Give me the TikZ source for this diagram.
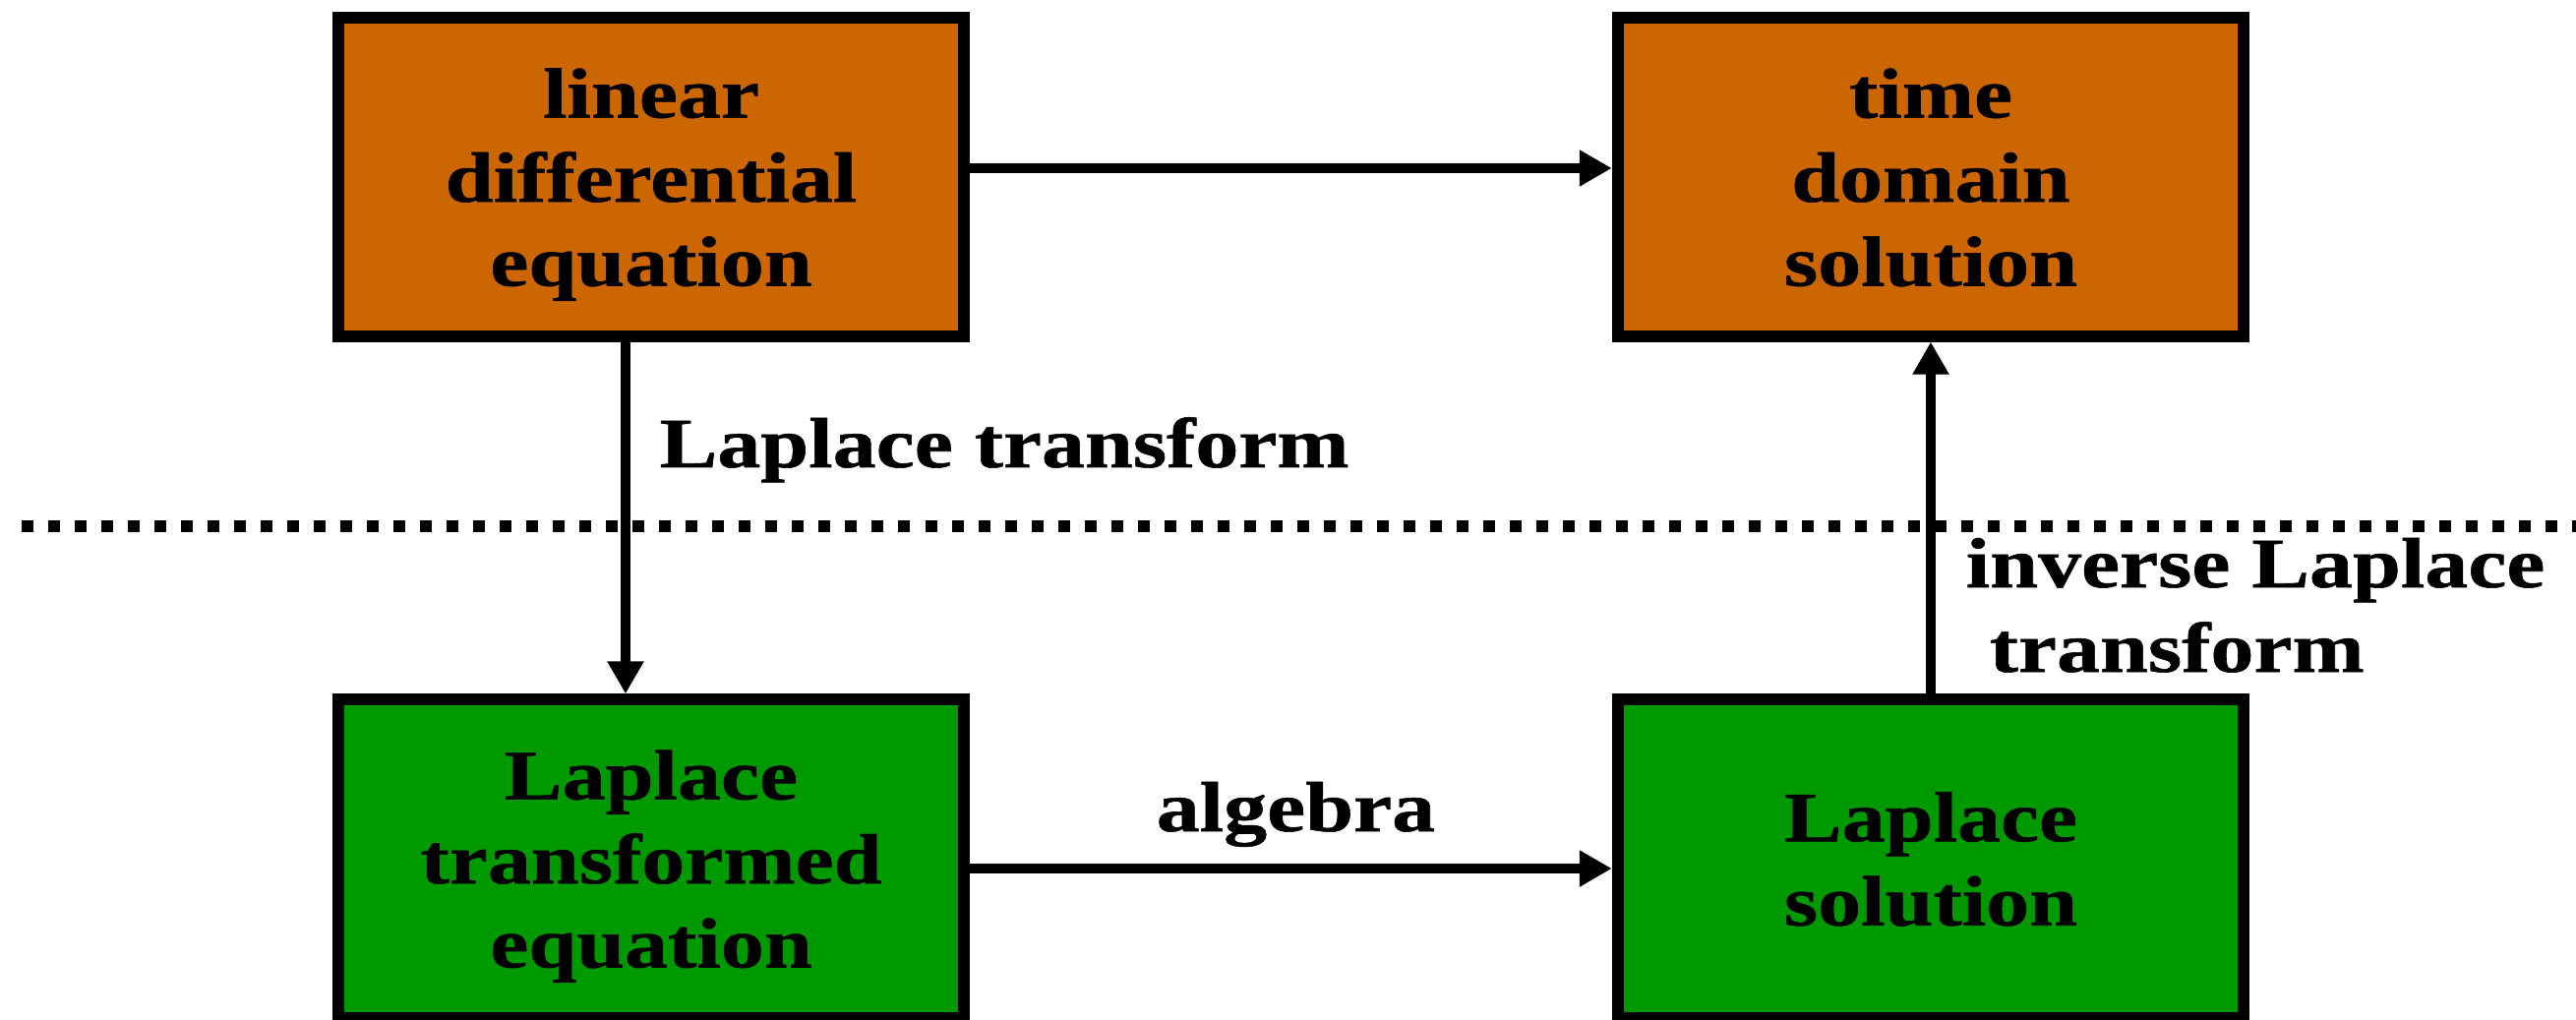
\documentclass[tikz,border=0pt]{standalone}
\usepackage{fontspec}
\setmainfont{Liberation Serif}[FakeStretch=1.22,FakeBold=0.8]
\usetikzlibrary{arrows.meta}
\definecolor{boxorange}{RGB}{204,102,0}
\definecolor{boxgreen}{RGB}{0,153,0}
\newcommand\mytopst{\rule{0pt}{0.7cm}}
\newcommand\mybotst{\rule[-0.2cm]{0pt}{0.2cm}}
\begin{document}
\begin{tikzpicture}[x=0.01cm,y=-0.01cm,
  txt/.style={font=\fontsize{20.5pt}{24.3pt}\selectfont\bfseries},
  blockbox/.style={txt,draw=black,line width=0.12cm,minimum width=6.36cm,minimum height=3.23cm,align=center,inner sep=0pt},
  topbox/.style={blockbox,fill=boxorange},
  botbox/.style={blockbox,fill=boxgreen},
  arr/.style={line width=0.10cm,-{Triangle[length=0.33cm,width=0.35cm]}},
  lbl/.style={txt,inner sep=0pt,anchor=base west}]
\useasboundingbox (0,0) rectangle (2619,1037);
\node[topbox] (lde) at (662,180) {\mytopst linear\\differential\\equation\mybotst};
\node[topbox] (tds) at (1963,180) {\mytopst time\\domain\\solution\mybotst};
\node[botbox] (lte) at (662,873) {\mytopst Laplace\\transformed\\equation\mybotst};
\node[botbox] (ls) at (1963,873) {\mytopst Laplace\\solution\mybotst};
\coordinate (dl) at (22,535);
\coordinate (dr) at (2619,535);
\draw[line width=0.11cm,dash pattern=on 0.12cm off 0.15cm] (dl) -- (dr);
\draw[arr] ([yshift=0.09cm]lde.east) -- ([yshift=0.09cm]tds.west);
\draw[arr] ([xshift=-0.26cm]lde.south) -- ([xshift=-0.26cm]lte.north);
\draw[arr] (ls.north) -- (tds.south);
\draw[arr] ([yshift=-0.10cm]lte.east) -- ([yshift=-0.10cm]ls.west);
\node[lbl] (lt) at (670,475) {Laplace transform};
\node[lbl] (il1) at (1998,597) {inverse Laplace};
\node[lbl] (il2) at (2022,683) {transform};
\node[lbl] (alg) at (1175,845) {algebra};
\end{tikzpicture}
\end{document}
